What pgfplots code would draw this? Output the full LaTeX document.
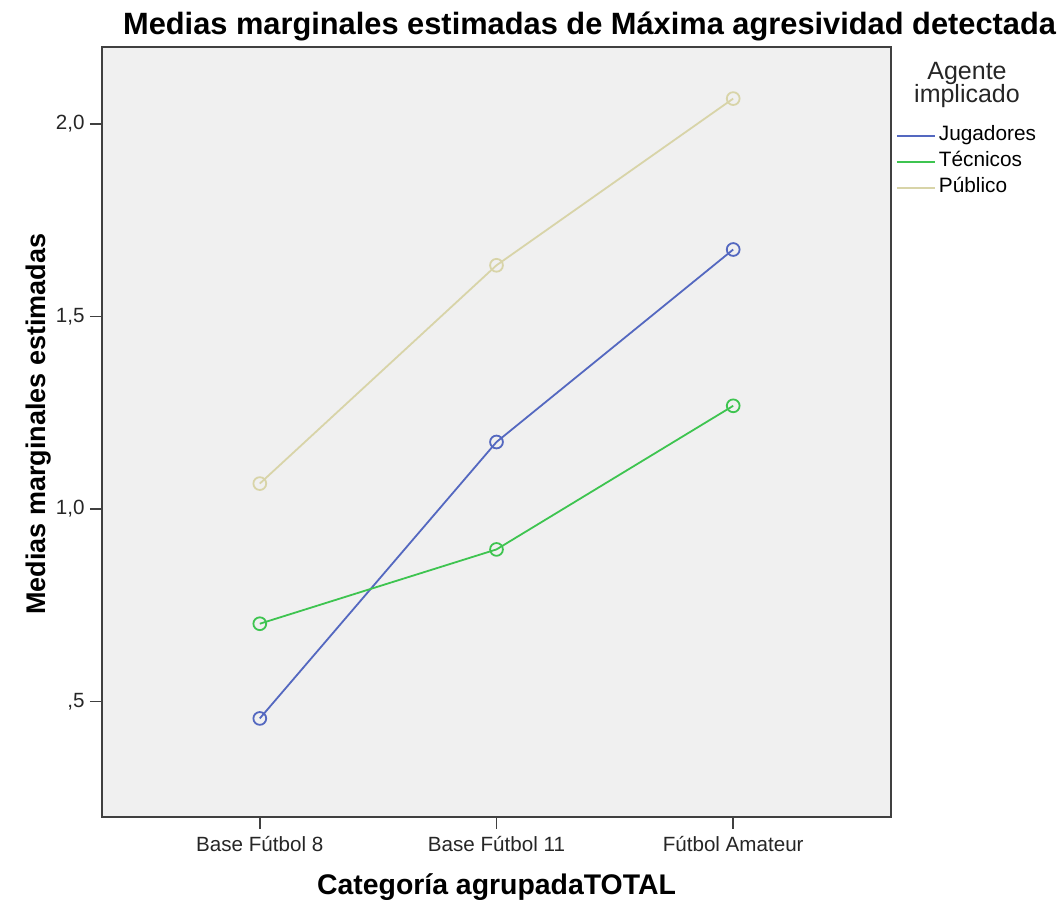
\documentclass[border=0pt]{standalone}
\usepackage{fontspec}
\setmainfont{Liberation Sans}
\usepackage{pgfplots}
\usepackage{pgfplotstable}
\pgfplotsset{compat=1.18}
\definecolor{cJug}{HTML}{5468C0}
\definecolor{cTec}{HTML}{3EC450}
\definecolor{cPub}{HTML}{D8D4A8}
\definecolor{bg}{HTML}{F0F0F0}
\definecolor{axc}{HTML}{404040}

\pgfplotstableread{
x jug tec pub
0 0.456 0.702 1.066
1 1.174 0.895 1.633
2 1.674 1.268 2.066
}\datatable

\begin{document}
\begin{tikzpicture}
\useasboundingbox (-51pt,-43pt) rectangle (478.5pt,408.5pt);
\begin{axis}[
  at={(0,0)}, anchor=south west,
  scale only axis, width=394.5pt, height=385pt,
  xmin=-0.6667, xmax=2.6667, ymin=0.2, ymax=2.2,
  xtick={0,1,2}, xticklabels={Base Fútbol 8, Base Fútbol 11, Fútbol Amateur},
  ytick={0.5,1,1.5,2}, yticklabels={{,5},{1,0},{1,5},{2,0}},
  tick pos=left, tick align=outside, major tick length=6pt,
  tick style={axc, line width=0.8pt},
  axis line style={axc, line width=1pt},
  axis background/.style={fill=bg},
  ticklabel style={font=\fontsize{10.3}{12}\selectfont, text=black!85},
  yticklabel style={inner sep=2.5pt},
  title={Medias marginales estimadas de Máxima agresividad detectada},
  title style={at={(rel axis cs:0.618,1.001)}, anchor=base, font=\bfseries\fontsize{15.4}{18}\selectfont},
  xlabel={Categoría agrupadaTOTAL},
  xlabel style={at={(rel axis cs:0.5,-0.101)}, anchor=base, font=\bfseries\fontsize{14.2}{17}\selectfont},
  ylabel={Medias marginales estimadas},
  ylabel style={at={(rel axis cs:-0.072,0.51)}, anchor=base, font=\bfseries\fontsize{13.5}{16}\selectfont},
  legend style={at={(rel axis cs:1.0063,0.8975)}, anchor=north west, draw=none, fill=none,
    inner sep=0pt, outer sep=0pt,
    font=\fontsize{10.4}{12}\selectfont,
    nodes={inner sep=0pt, text height=7.5pt, text depth=2.5pt}, row sep=3pt},
  legend cell align=left,
  legend image code/.code={\draw[#1] (0pt,0pt) -- (19pt,0pt); \path[draw=none,fill=none] (0pt,-3.7pt) rectangle (21pt,0pt);},
]
\addplot[cJug, line width=0.9pt, mark=o, mark size=3.2pt] table[x=x,y=jug]{\datatable};
\addlegendentry{Jugadores}
\addplot[cTec, line width=0.9pt, mark=o, mark size=3.2pt] table[x=x,y=tec]{\datatable};
\addlegendentry{Técnicos}
\addplot[cPub, line width=0.9pt, mark=o, mark size=3.2pt] table[x=x,y=pub]{\datatable};
\addlegendentry{Público}
\end{axis}
\node[anchor=base, font=\fontsize{12.5}{14}\selectfont, text=black!85] at (432.5pt,368.5pt) {Agente};
\node[anchor=base, font=\fontsize{12.5}{14}\selectfont, text=black!85] at (432.5pt,357pt) {implicado};
\end{tikzpicture}
\end{document}
